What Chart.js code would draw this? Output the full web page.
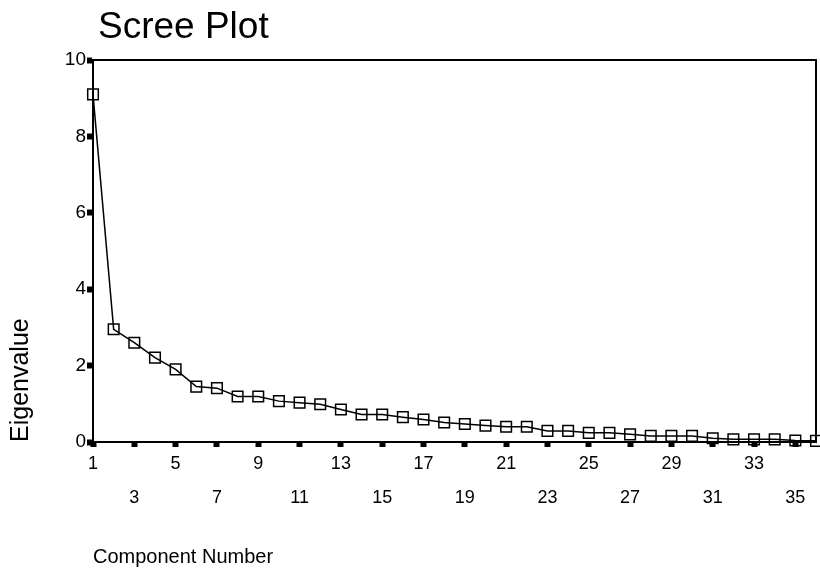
<!DOCTYPE html>
<html lang="en">
<head>
    <meta charset="UTF-8">
    <title>Scree Plot</title>
    <script src="https://cdn.jsdelivr.net/npm/chart.js"></script>
    <style>
        html, body { margin: 0; padding: 0; background: white; }
        #wrap { width: 820px; height: 570px; }
    </style>
</head>
<body>
    <div id="wrap"><canvas id="scree"></canvas></div>

    <script>
        const components = [1, 2, 3, 4, 5, 6, 7, 8, 9, 10, 11, 12, 13, 14, 15, 16, 17, 18,
                            19, 20, 21, 22, 23, 24, 25, 26, 27, 28, 29, 30, 31, 32, 33, 34, 35, 36];
        const eigenvalues = [9.10, 2.95, 2.60, 2.21, 1.90, 1.45, 1.41, 1.19, 1.19, 1.07, 1.03, 0.99,
                             0.85, 0.72, 0.72, 0.65, 0.59, 0.51, 0.47, 0.43, 0.40, 0.40, 0.29, 0.29,
                             0.24, 0.24, 0.20, 0.16, 0.16, 0.16, 0.10, 0.07, 0.07, 0.07, 0.04, 0.03];
        const xTicks = [1, 3, 5, 7, 9, 11, 13, 15, 17, 19, 21, 23, 25, 27, 29, 31, 33, 35];
        const yTicks = [0, 2, 4, 6, 8, 10];

        const FONT = "'Liberation Sans', Arial, sans-serif";

        // frame round the plot area and the title in the top left corner
        const framePlugin = {
            id: 'frame',
            afterDraw(chart) {
                const { ctx, chartArea: a } = chart;
                ctx.save();
                ctx.strokeStyle = '#000';
                ctx.lineWidth = 2;
                ctx.beginPath();
                ctx.moveTo(a.left, a.top);
                ctx.lineTo(a.right, a.top);
                ctx.lineTo(a.right, a.bottom);
                ctx.stroke();
                ctx.fillStyle = '#000';
                ctx.font = '37px ' + FONT;
                ctx.textBaseline = 'alphabetic';
                ctx.fillText('Scree Plot', 98, 38);
                ctx.restore();
            }
        };

        new Chart(document.getElementById('scree'), {
            type: 'line',
            data: {
                datasets: [{
                    label: 'Eigenvalue',
                    data: components.map((c, i) => ({ x: c, y: eigenvalues[i] })),
                    borderColor: '#000',
                    borderWidth: 1.5,
                    backgroundColor: 'rgba(0,0,0,0)',
                    pointStyle: 'rect',
                    pointRadius: 7.5,
                    pointBorderWidth: 1.5,
                    pointBorderColor: '#000',
                    pointBackgroundColor: 'rgba(0,0,0,0)',
                    tension: 0,
                    clip: false
                }]
            },
            options: {
                responsive: true,
                maintainAspectRatio: false,
                animation: false,
                layout: { autoPadding: false, padding: { top: 60, right: 4, left: 0, bottom: 0 } },
                plugins: {
                    legend: { display: false },
                    tooltip: { enabled: false }
                },
                scales: {
                    x: {
                        type: 'linear',
                        min: 1,
                        max: 36,
                        afterBuildTicks: s => { s.ticks = xTicks.map(v => ({ value: v })); },
                        afterFit: s => { s.height = 128; s.paddingRight = 0; s.paddingLeft = 0; },
                        grid: { drawOnChartArea: false, tickLength: 5, tickWidth: 6, tickColor: '#000' },
                        border: { display: true, color: '#000', width: 2 },
                        ticks: {
                            autoSkip: false,
                            maxRotation: 0,
                            padding: 0,
                            color: '#000',
                            font: { family: FONT, size: 18, lineHeight: 1.9 },
                            callback: (v, i) => i % 2 === 0 ? String(v) : ['', String(v)]
                        },
                        title: {
                            display: true,
                            text: 'Component Number',
                            align: 'start',
                            color: '#000',
                            font: { family: FONT, size: 20 },
                            padding: { top: 0, bottom: 1 }
                        }
                    },
                    y: {
                        min: 0,
                        max: 10,
                        afterBuildTicks: s => { s.ticks = yTicks.map(v => ({ value: v })); },
                        afterFit: s => { s.width = 93; },
                        grid: { drawOnChartArea: false, tickLength: 6, tickWidth: 6, tickColor: '#000' },
                        border: { display: true, color: '#000', width: 2 },
                        ticks: {
                            padding: 1,
                            color: '#000',
                            font: { family: FONT, size: 19 }
                        },
                        title: {
                            display: true,
                            text: 'Eigenvalue',
                            align: 'start',
                            color: '#000',
                            font: { family: FONT, size: 25 },
                            padding: { top: 6, bottom: 0 }
                        }
                    }
                }
            },
            plugins: [framePlugin]
        });
    </script>
</body>
</html>
